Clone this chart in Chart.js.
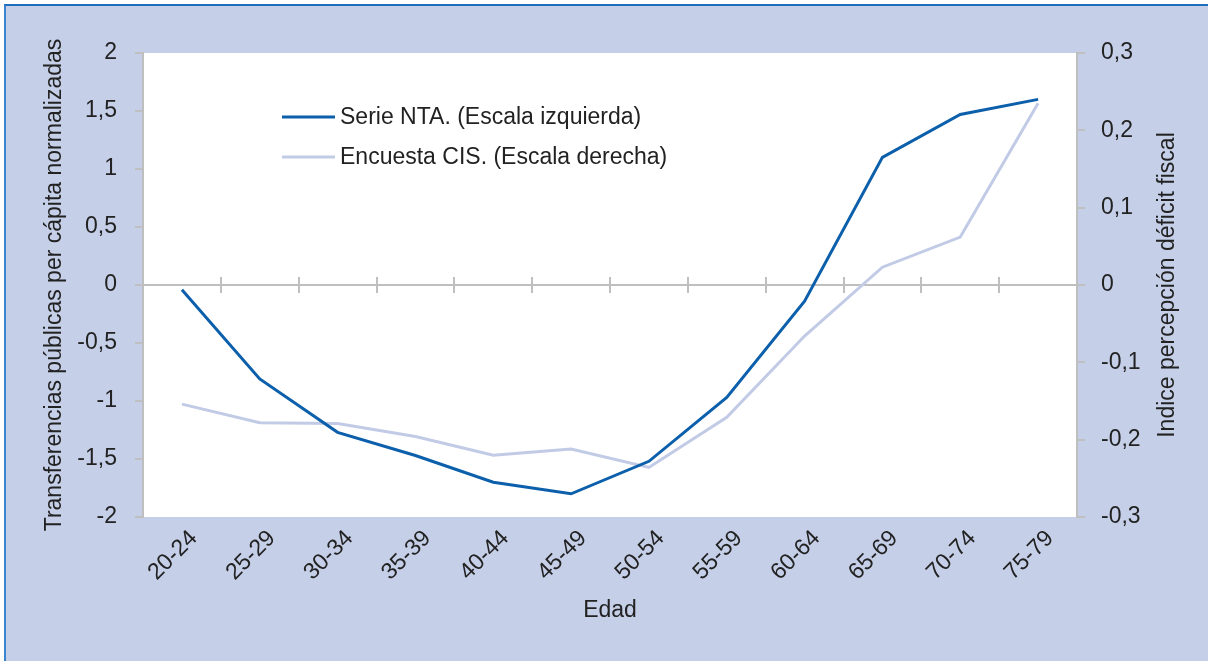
<!DOCTYPE html>
<html>
<head>
<meta charset="utf-8">
<script src="https://cdn.jsdelivr.net/npm/chart.js@4/dist/chart.umd.min.js"></script>
<style>
  html, body { margin: 0; padding: 0; background: #ffffff; }
  #frame {
    position: absolute; left: 4px; top: 4px; width: 1204px; height: 657px;
    background: #c5cfe8; border-top: 2px solid #1f6dbd; border-left: 2px solid #3a84cf;
    box-sizing: border-box;
  }
  #wrap { position: absolute; left: 0; top: 0; width: 1208px; height: 661px; }
</style>
</head>
<body>
<div id="frame"></div>
<div id="wrap"><canvas id="grafico" width="1208" height="661"></canvas></div>
<script>
const edades = ['20-24', '25-29', '30-34', '35-39', '40-44', '45-49', '50-54', '55-59', '60-64', '65-69', '70-74', '75-79'];
const serieNTA = [-0.04, -0.81, -1.27, -1.47, -1.70, -1.80, -1.52, -0.97, -0.14, 1.10, 1.47, 1.60];
const encuestaCIS = [-0.154, -0.178, -0.179, -0.196, -0.220, -0.212, -0.236, -0.171, -0.066, 0.023, 0.062, 0.235];

const fuente = "'Liberation Sans', Arial, sans-serif";
const tam = 23;
const gris = '#bfbfbf';
const texto = '#222222';

function coma(v, dec) {
  const r = Math.round(v * Math.pow(10, dec)) / Math.pow(10, dec);
  return String(r).replace('.', ',');
}

// fondo blanco del area de trazado, eje cero con marcas, leyenda y titulo derecho
const decoracion = {
  id: 'decoracion',
  beforeDraw(chart) {
    const {ctx, chartArea: a} = chart;
    ctx.save();
    ctx.fillStyle = '#ffffff';
    ctx.fillRect(a.left, a.top, a.right - a.left, a.bottom - a.top);
    ctx.restore();
  },
  beforeDatasetsDraw(chart) {
    const {ctx, chartArea: a} = chart;
    const y0 = chart.scales.y.getPixelForValue(0);
    const xs = chart.scales.x;
    const paso = (xs.right - xs.left) / edades.length;
    ctx.save();
    ctx.strokeStyle = gris;
    ctx.lineWidth = 2;
    ctx.beginPath();
    ctx.moveTo(a.left, y0);
    ctx.lineTo(a.right, y0);
    for (let i = 0; i <= edades.length; i++) {
      const x = Math.round(xs.left + i * paso);
      ctx.moveTo(x, y0 - 8);
      ctx.lineTo(x, y0 + 8);
    }
    ctx.stroke();
    ctx.restore();
  },
  afterDraw(chart) {
    const {ctx, chartArea: a} = chart;
    ctx.save();
    ctx.font = tam + 'px ' + fuente;
    ctx.textBaseline = 'middle';
    chart.data.datasets.forEach((ds, i) => {
      const y = a.top + 64 + i * 40;
      ctx.strokeStyle = ds.borderColor;
      ctx.lineWidth = 3;
      ctx.beginPath();
      ctx.moveTo(a.left + 139, y);
      ctx.lineTo(a.left + 192, y);
      ctx.stroke();
      ctx.fillStyle = texto;
      ctx.fillText(ds.label, a.left + 197, y + 1);
    });
    // titulo del eje derecho, leido de abajo arriba
    const yr = chart.scales.y1;
    ctx.translate(1168, (yr.top + yr.bottom) / 2);
    ctx.rotate(-Math.PI / 2);
    ctx.textAlign = 'center';
    ctx.fillText('Indice percepción déficit fiscal', 0, 0);
    ctx.restore();
  }
};

new Chart(document.querySelector('#grafico'), {
  type: 'line',
  data: {
    labels: edades,
    datasets: [
      {
        label: 'Serie NTA. (Escala izquierda)',
        data: serieNTA,
        yAxisID: 'y',
        borderColor: '#0b5fab',
        borderWidth: 3,
        pointRadius: 0,
        tension: 0
      },
      {
        label: 'Encuesta CIS. (Escala derecha)',
        data: encuestaCIS,
        yAxisID: 'y1',
        borderColor: '#c2cbe6',
        borderWidth: 3,
        pointRadius: 0,
        tension: 0
      }
    ]
  },
  options: {
    responsive: false,
    animation: false,
    layout: { padding: { left: 30, top: 53, right: 0, bottom: 0 } },
    plugins: {
      legend: { display: false },
      tooltip: { enabled: false }
    },
    scales: {
      x: {
        type: 'category',
        offset: true,
        position: 'bottom',
        border: { display: false },
        grid: { display: false },
        ticks: {
          color: texto,
          font: { family: fuente, size: tam },
          minRotation: 45,
          maxRotation: 45,
          padding: 0,
          labelOffset: 12
        },
        title: {
          display: true,
          text: 'Edad',
          color: texto,
          font: { family: fuente, size: tam },
          padding: { top: 0, bottom: 37 }
        },
        afterFit(s) { s.height = 144; }
      },
      y: {
        position: 'left',
        min: -2,
        max: 2,
        border: { display: true, color: gris, width: 2 },
        grid: { drawOnChartArea: false, drawTicks: true, tickLength: 8, color: gris, lineWidth: 2 },
        ticks: {
          stepSize: 0.5,
          color: texto,
          font: { family: fuente, size: tam },
          padding: 18,
          callback: (v) => coma(v, 1)
        },
        title: {
          display: true,
          text: 'Transferencias públicas per cápita normalizadas',
          color: texto,
          font: { family: fuente, size: tam },
          padding: { top: 11, bottom: 0 }
        },
        afterFit(s) { s.width = 113; }
      },
      y1: {
        position: 'right',
        min: -0.3,
        max: 0.3,
        border: { display: true, color: gris, width: 2 },
        grid: { drawOnChartArea: false, drawTicks: true, tickLength: 8, color: gris, lineWidth: 2 },
        ticks: {
          stepSize: 0.1,
          color: texto,
          font: { family: fuente, size: tam },
          padding: 16,
          callback: (v) => coma(v, 1)
        },
        afterFit(s) { s.width = 131; }
      }
    }
  },
  plugins: [decoracion]
});
</script>
</body>
</html>
